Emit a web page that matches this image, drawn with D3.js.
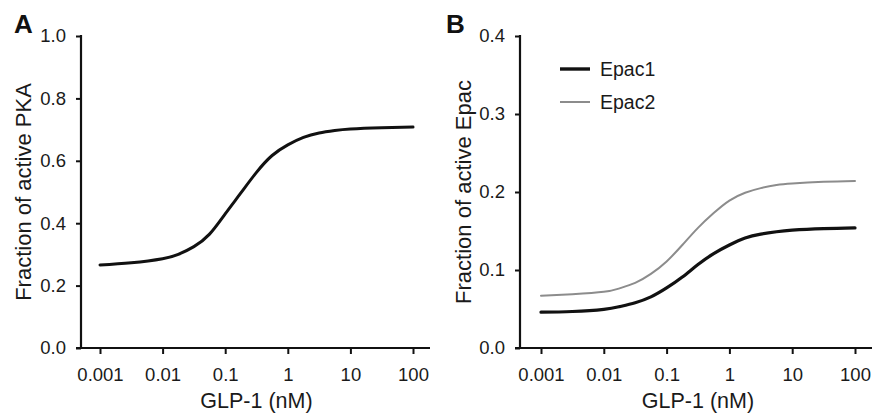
<!DOCTYPE html>
<html>
<head>
<meta charset="utf-8">
<script src="https://cdn.jsdelivr.net/npm/d3@7"></script>
<style>
  body { margin: 0; background: #fff; }
  svg { display: block; font-family: "Liberation Sans", Arial, sans-serif; }
</style>
</head>
<body>
<svg id="fig" width="886" height="414"></svg>
<script>
// GLP-1 doses (nM), read at quarter/half decade steps
var doses = [0.001, 0.00316, 0.01, 0.0178, 0.0316, 0.0562, 0.1, 0.178, 0.316, 0.562, 1, 1.78, 3.16, 5.62, 10, 31.6, 100];

// panel A
var pka = [0.266, 0.273, 0.286, 0.300, 0.325, 0.365, 0.430, 0.497, 0.563, 0.617, 0.651, 0.675, 0.689, 0.697, 0.702, 0.706, 0.708];

// panel B
var epac1 = [0.046, 0.0468, 0.0495, 0.053, 0.058, 0.0655, 0.077, 0.091, 0.107, 0.121, 0.132, 0.141, 0.146, 0.149, 0.151, 0.153, 0.154];
var epac2 = [0.067, 0.069, 0.072, 0.0765, 0.0835, 0.095, 0.111, 0.132, 0.154, 0.173, 0.189, 0.199, 0.205, 0.209, 0.211, 0.213, 0.214];

// ticks
var xTicks = [0.001, 0.01, 0.1, 1, 10, 100];
var xTickLabels = ["0.001", "0.01", "0.1", "1", "10", "100"];
var yTicksA = [0, 0.2, 0.4, 0.6, 0.8, 1.0];
var yTicksB = [0, 0.1, 0.2, 0.3, 0.4];

var svg = d3.select("#fig");

function panel(opt) {
  var g = svg.append("g");

  var x = d3.scaleLog().domain([0.001, 100]).range([opt.x0, opt.x1]);
  var y = d3.scaleLinear().domain([0, opt.ymax]).range([348, 36]);

  // x axis
  var xa = g.append("g")
    .attr("transform", "translate(0,348)")
    .call(d3.axisBottom(x).tickValues(xTicks)
      .tickFormat(function(d, i) { return xTickLabels[i]; })
      .tickSize(6).tickPadding(14).tickSizeOuter(0));
  xa.select(".domain").remove();
  xa.append("line")
    .attr("x1", opt.axisX - 5).attr("x2", opt.x1 + 17)
    .attr("y1", 0).attr("y2", 0)
    .attr("stroke", "#111").attr("stroke-width", 2.2);

  // y axis
  var ya = g.append("g")
    .attr("transform", "translate(" + opt.axisX + ",0)")
    .call(d3.axisLeft(y).tickValues(opt.yTicks).tickFormat(d3.format(".1f"))
      .tickSize(5).tickPadding(10).tickSizeOuter(0));
  ya.select(".domain").remove();
  ya.append("line")
    .attr("x1", 0).attr("x2", 0).attr("y1", 35).attr("y2", 349)
    .attr("stroke", "#111").attr("stroke-width", 2.2);

  g.selectAll(".tick line").attr("stroke", "#111").attr("stroke-width", 2);
  g.selectAll(".tick text").attr("font-size", 18.5).attr("fill", "#1a1a1a")
    .attr("font-family", "Liberation Sans, Arial, sans-serif");

  // titles
  g.append("text")
    .attr("x", (opt.x0 + opt.x1) / 2).attr("y", 408)
    .attr("text-anchor", "middle").attr("font-size", 21.5).attr("fill", "#1a1a1a")
    .text("GLP-1 (nM)");
  g.append("text")
    .attr("transform", "translate(" + opt.titleX + ",192) rotate(-90)")
    .attr("text-anchor", "middle").attr("font-size", 22).attr("fill", "#1a1a1a")
    .text(opt.ytitle);
  g.append("text")
    .attr("x", opt.letterX).attr("y", 33)
    .attr("font-size", 26).attr("font-weight", "bold").attr("fill", "#111")
    .text(opt.letter);

  var line = d3.line()
    .x(function(d, i) { return x(doses[i]); })
    .y(function(d) { return y(d); })
    .curve(d3.curveNatural);

  opt.series.forEach(function(s) {
    g.append("path").datum(s.values)
      .attr("d", line)
      .attr("fill", "none")
      .attr("stroke", s.color)
      .attr("stroke-width", s.width)
      .attr("stroke-linecap", "round");
  });

  return { g: g, x: x, y: y };
}

panel({
  letter: "A", letterX: 14, axisX: 81, x0: 100, x1: 413, ymax: 1.0,
  yTicks: yTicksA, titleX: 31, ytitle: "Fraction of active PKA",
  series: [{ values: pka, color: "#111", width: 3 }]
});

var pb = panel({
  letter: "B", letterX: 446, axisX: 520, x0: 541, x1: 855, ymax: 0.4,
  yTicks: yTicksB, titleX: 471, ytitle: "Fraction of active Epac",
  series: [
    { values: epac2, color: "#8c8c8c", width: 2 },
    { values: epac1, color: "#111", width: 3.2 }
  ]
});

// legend
var legend = [
  { name: "Epac1", color: "#111", width: 3.4 },
  { name: "Epac2", color: "#8c8c8c", width: 2 }
];
var lg = pb.g.selectAll(".leg").data(legend).enter().append("g")
  .attr("transform", function(d, i) { return "translate(560," + (69 + i * 33) + ")"; });
lg.append("line").attr("x1", 0).attr("x2", 30).attr("y1", 0).attr("y2", 0)
  .attr("stroke", function(d) { return d.color; })
  .attr("stroke-width", function(d) { return d.width; });
lg.append("text").attr("x", 40).attr("y", 0).attr("dy", "0.35em")
  .attr("font-size", 19.5).attr("fill", "#1a1a1a")
  .text(function(d) { return d.name; });
</script>
</body>
</html>
